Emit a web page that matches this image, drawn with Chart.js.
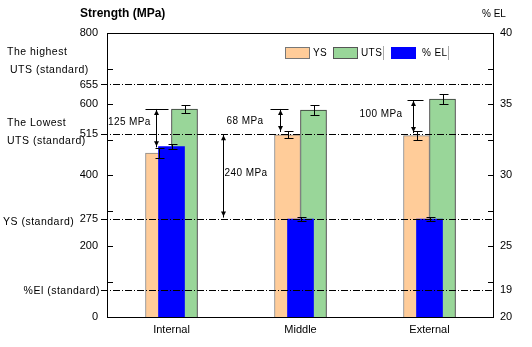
<!DOCTYPE html>
<html>
<head>
<meta charset="utf-8">
<script src="https://cdn.jsdelivr.net/npm/chart.js@4.4.0/dist/chart.umd.min.js"></script>
<style>
  body { margin: 0; background: #fff; }
</style>
</head>
<body>
<canvas id="chartStrength" width="532" height="347"></canvas>
<script>
// values
const categories = ['Internal', 'Middle', 'External'];
const ysValues = [462, 513, 511];
const ysErrors = [14, 10, 12];
const utsValues = [586, 583, 614];
const utsErrors = [12, 14, 14];
const elValues = [32.0, 26.9, 26.9];
const elErrors = [0.15, 0.15, 0.15];

const leftTicks = [0, 100, 200, 275, 300, 400, 500, 515, 600, 655, 700, 800];
const leftTickLabels = ['0', '', '200', '275', '', '400', '', '515', '600', '655', '', '800'];
const rightTicks = [20, 21.9, 22.5, 25, 27.5, 30, 32.5, 35, 37.5, 40];
const rightTickLabels = ['20', '19', '', '25', '', '30', '', '35', '', '40'];

// standard lines (MPa) and the %El standard line (on % EL axis)
const standardLines = [655, 515, 275];
const elStandardLine = 21.9;

// gap arrows
const gapLabels = ['125 MPa', '68 MPa', '100 MPa', '240 MPa'];
const gapTop = [586, 586, 611, 515];
const gapBottom = [478, 521, 518, 280];

const fontName = "'Liberation Sans', Arial, sans-serif";

function arrowHead(ctx, x, y, dir) {
    ctx.beginPath();
    ctx.moveTo(x, y);
    ctx.lineTo(x - 2.5, y + 5 * dir);
    ctx.lineTo(x + 2.5, y + 5 * dir);
    ctx.closePath();
    ctx.fill();
}

const decorPlugin = {
    id: 'decor',
    afterDatasetsDraw(chart) {
        const ctx = chart.ctx;
        const area = chart.chartArea;
        const xs = chart.scales.x, ys = chart.scales.y, ys2 = chart.scales.y2;
        ctx.save();
        ctx.strokeStyle = '#000';
        ctx.fillStyle = '#000';
        ctx.lineWidth = 1;

        // error bars
        const errSets = [[0, ysValues, ysErrors, ys], [1, utsValues, utsErrors, ys], [2, elValues, elErrors, ys2]];
        errSets.forEach(function (s) {
            const meta = chart.getDatasetMeta(s[0]);
            meta.data.forEach(function (bar, i) {
                const x = Math.round(bar.x) + 0.5;
                const yHi = Math.round(s[3].getPixelForValue(s[1][i] + s[2][i])) + 0.5;
                const yLo = Math.round(s[3].getPixelForValue(s[1][i] - s[2][i])) + 0.5;
                ctx.beginPath();
                ctx.moveTo(x, yHi); ctx.lineTo(x, yLo);
                ctx.moveTo(x - 4, yHi); ctx.lineTo(x + 5, yHi);
                ctx.moveTo(x - 4, yLo); ctx.lineTo(x + 5, yLo);
                ctx.stroke();
            });
        });

        // standard lines
        ctx.setLineDash([7, 2, 1, 2]);
        const lineYs = standardLines.map(v => ys.getPixelForValue(v));
        lineYs.push(ys2.getPixelForValue(elStandardLine));
        lineYs.forEach(function (py) {
            const y = Math.round(py) + 0.5;
            ctx.beginPath();
            ctx.moveTo(area.left - 6, y);
            ctx.lineTo(area.right, y);
            ctx.stroke();
        });
        ctx.setLineDash([]);

        // gap arrows: x offset from category centre, cap from/to
        const arrowPos = [
            { cat: 0, dx: -16, cap: [-26, -3] },
            { cat: 1, dx: -21, cap: [-30, -12] },
            { cat: 2, dx: -17, cap: [-22, -6] },
            { cat: 0, dx: 51, cap: null }
        ];
        arrowPos.forEach(function (a, i) {
            const cx = xs.getPixelForValue(a.cat);
            const x = Math.round(cx + a.dx) + 0.5;
            const yT = ys.getPixelForValue(gapTop[i]);
            const yB = ys.getPixelForValue(gapBottom[i]);
            ctx.beginPath();
            ctx.moveTo(x, yT); ctx.lineTo(x, yB);
            ctx.stroke();
            arrowHead(ctx, x, yT + 1, 1);
            arrowHead(ctx, x, yB - 1, -1);
            if (a.cap) {
                ctx.beginPath();
                ctx.moveTo(cx + a.cap[0], Math.round(yT) + 0.5);
                ctx.lineTo(cx + a.cap[1], Math.round(yT) + 0.5);
                ctx.stroke();
            }
        });

        ctx.font = '10px ' + fontName;
        ctx.letterSpacing = '0.4px';
        ctx.textBaseline = 'middle';
        ctx.textAlign = 'left';
        ctx.fillText(gapLabels[0], 108, 122);
        ctx.textAlign = 'center';
        ctx.fillText(gapLabels[1], 245, 121);
        ctx.fillText(gapLabels[2], 381, 114);
        ctx.fillText(gapLabels[3], 246, 173);

        // plot frame and inward ticks
        ctx.strokeRect(area.left + 0.5, area.top + 0.5, area.right - area.left - 1, area.bottom - area.top);
        ctx.beginPath();
        [100, 200, 300, 400, 500, 600, 700].forEach(function (v) {
            const y = Math.round(ys.getPixelForValue(v)) + 0.5;
            ctx.moveTo(area.left, y); ctx.lineTo(area.left + 6, y);
        });
        [22.5, 25, 27.5, 30, 32.5, 35, 37.5].forEach(function (v) {
            const y = Math.round(ys2.getPixelForValue(v)) + 0.5;
            ctx.moveTo(area.right - 6, y); ctx.lineTo(area.right, y);
        });
        ctx.stroke();

        // legend inside plot
        const legend = [['YS', '#FFCC99', '#777', 285, 313], ['UTS', '#99D699', '#555', 333, 361], ['% EL', '#0000FF', '#0000FF', 391, 422]];
        ctx.textAlign = 'left';
        legend.forEach(function (l) {
            ctx.fillStyle = l[1];
            ctx.fillRect(l[3], 47, 25, 12);
            ctx.strokeStyle = l[2];
            ctx.strokeRect(l[3] + 0.5, 47.5, 24, 11);
            ctx.fillStyle = '#000';
            ctx.fillText(l[0], l[4], 53);
        });
        ctx.strokeStyle = '#aaa';
        ctx.beginPath();
        [383.5, 448.5].forEach(function (x) { ctx.moveTo(x, 46); ctx.lineTo(x, 60); });
        ctx.stroke();

        // titles and standard captions
        ctx.fillStyle = '#000';
        ctx.letterSpacing = '0px';
        ctx.font = 'bold 12px ' + fontName;
        ctx.fillText('Strength (MPa)', 80, 14);
        ctx.font = '10px ' + fontName;
        ctx.fillText('% EL', 482, 14);
        ctx.font = '10.5px ' + fontName;
        ctx.letterSpacing = '0.5px';
        ctx.fillText('The highest', 7, 52);
        ctx.fillText('UTS (standard)', 10, 70);
        ctx.fillText('The Lowest', 7, 123);
        ctx.fillText('UTS (standard)', 7, 141);
        ctx.fillText('YS (standard)', 3, 222);
        ctx.textAlign = 'right';
        ctx.fillText('%El (standard)', 100, 291);
        ctx.restore();
    }
};

new Chart(document.getElementById('chartStrength'), {
    type: 'bar',
    data: {
        labels: categories,
        datasets: [
            { label: 'YS', data: ysValues, yAxisID: 'y', backgroundColor: '#FFCC99', borderColor: '#888', borderWidth: 1, barThickness: 26, order: 1 },
            { label: 'UTS', data: utsValues, yAxisID: 'y', backgroundColor: '#99D699', borderColor: '#333', borderWidth: 1, barThickness: 26, order: 1 },
            { label: '% EL', data: elValues, yAxisID: 'y2', backgroundColor: '#0000FF', borderWidth: 0, barThickness: 26, grouped: false, order: 0 }
        ]
    },
    options: {
        responsive: false,
        animation: false,
        devicePixelRatio: 1,
        layout: { padding: { top: 33, left: 0, right: 0, bottom: 0 } },
        plugins: {
            legend: { display: false },
            tooltip: { enabled: false }
        },
        scales: {
            x: {
                grid: { display: false, drawTicks: false },
                border: { display: false },
                ticks: { color: '#000', font: { size: 11, family: fontName }, padding: 6 },
                afterFit(s) { s.height = 30; }
            },
            y: {
                position: 'left',
                min: 0,
                max: 800,
                grid: { display: false, drawTicks: false },
                border: { display: false },
                afterBuildTicks(s) { s.ticks = leftTicks.map(v => ({ value: v })); },
                ticks: {
                    autoSkip: false,
                    color: '#000',
                    font: { size: 11, family: fontName },
                    padding: 9,
                    callback: (v) => leftTickLabels[leftTicks.indexOf(v)]
                },
                afterFit(s) { s.width = 107; }
            },
            y2: {
                position: 'right',
                min: 20,
                max: 40,
                grid: { display: false, drawTicks: false },
                border: { display: false },
                afterBuildTicks(s) { s.ticks = rightTicks.map(v => ({ value: v })); },
                ticks: {
                    autoSkip: false,
                    color: '#000',
                    font: { size: 11, family: fontName },
                    padding: 6,
                    callback: (v) => rightTickLabels[rightTicks.indexOf(v)]
                },
                afterFit(s) { s.width = 38; }
            }
        }
    },
    plugins: [decorPlugin]
});
</script>
</body>
</html>
